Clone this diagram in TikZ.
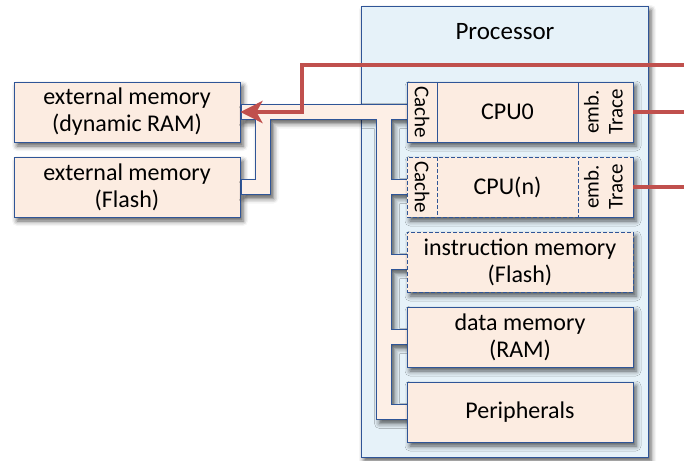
\documentclass[tikz,border=0pt]{standalone}
\usepackage{fontspec}
\setmainfont{Carlito}
\usetikzlibrary{shadows.blur,arrows.meta,calc}
\definecolor{procfill}{HTML}{E6F2F9}
\definecolor{boxfill}{HTML}{FCECE1}
\definecolor{busfill}{HTML}{FDEFE6}
\definecolor{bline}{HTML}{2F5597}
\definecolor{tred}{HTML}{C0504D}
\tikzset{
  shd/.style={blur shadow={shadow xshift=3pt, shadow yshift=-4pt, shadow blur radius=5pt, shadow opacity=65}},
  bx/.style={draw=bline, line width=0.9pt, fill=boxfill, minimum width=226pt, minimum height=60pt,
    inner sep=0pt, align=center, font=\fontsize{24}{27}\selectfont, shd},
  dbx/.style={bx, dash pattern=on 4pt off 2pt},
  part/.style={draw=bline, line width=0.9pt, fill=boxfill, minimum height=60pt, inner sep=0pt,
    align=center, font=\fontsize{24}{27}\selectfont},
  dpart/.style={part, dash pattern=on 4pt off 2pt},
  proc/.style={draw=bline, line width=0.9pt, fill=procfill, minimum width=287pt, minimum height=451pt, inner sep=0pt, shd},
  lbl/.style={font=\fontsize{25}{28}\selectfont, inner sep=0pt},
  busst/.style={draw=bline, line width=0.9pt, fill=busfill, shd},
  redln/.style={draw=tred, line width=4pt},
  traceln/.style={draw=tred, line width=3.5pt},
}
\begin{document}
\begin{tikzpicture}[x=1pt,y=-1pt]
\useasboundingbox (0,0) rectangle (684,460);
% processor
\node[proc] (proc) at (504.5,231.5) {};
\node[lbl] (proctitle) at (505,32) {Processor};
% external memories
\node[bx] (ext1) at (127,112) {external memory\\(dynamic RAM)};
\node[bx] (ext2) at (127,187) {external memory\\(Flash)};
% bus
\path[busst] (241,104.5) -- (407,104.5) -- (407,119.5) -- (391.5,119.5) -- (391.5,179.5)
  -- (407,179.5) -- (407,194.5) -- (391.5,194.5) -- (391.5,254.5) -- (407,254.5)
  -- (407,269.5) -- (391.5,269.5) -- (391.5,329.5) -- (407,329.5) -- (407,344.5)
  -- (391.5,344.5) -- (391.5,404.5) -- (407,404.5) -- (407,419.5) -- (376.5,419.5)
  -- (376.5,119.5) -- (270.5,119.5) -- (270.5,194.5) -- (241,194.5) -- (241,179.5)
  -- (255.5,179.5) -- (255.5,119.5) -- (241,119.5) -- cycle;
% CPU0
\node[bx] (cpu0bg) at (520,112) {};
\node[part, minimum width=30pt] (cache0) at (422,112) {\fontsize{21}{24}\selectfont\rotatebox{-90}{Cache}};
\node[part, minimum width=141pt] (cpu0) at (507.5,112) {CPU0};
\node[part, minimum width=55pt] (trace0) at (605.5,112)
  {\fontsize{21}{25}\selectfont\rotatebox{90}{\begin{tabular}{@{}c@{}}emb.\\[-1pt]Trace\end{tabular}}};
% CPU(n)
\node[dbx] (cpunbg) at (520,187) {};
\node[dpart, minimum width=30pt] (cachen) at (422,187) {\fontsize{21}{24}\selectfont\rotatebox{-90}{Cache}};
\node[dpart, minimum width=141pt] (cpun) at (507.5,187) {CPU(n)};
\node[dpart, minimum width=55pt] (tracen) at (605.5,187)
  {\fontsize{21}{25}\selectfont\rotatebox{90}{\begin{tabular}{@{}c@{}}emb.\\[-1pt]Trace\end{tabular}}};
% memories and peripherals
\node[dbx] (imem) at (520,262) {instruction memory\\(Flash)};
\node[bx] (dmem) at (520,337) {data memory\\(RAM)};
\node[bx] (periph) at (520,412) {Peripherals};
% trace connections
\coordinate (tin) at (684,65);
\coordinate (bend) at (302,112);
\coordinate (t0) at (684,112);
\coordinate (tn) at (684,187);
\draw[redln, -{Stealth[length=22pt,width=22pt,inset=6pt]}] (tin) -| (bend) -- (ext1.east);
\draw[traceln] (trace0.east) -- (t0);
\draw[traceln] (tracen.east) -- (tn);
\end{tikzpicture}
\end{document}
